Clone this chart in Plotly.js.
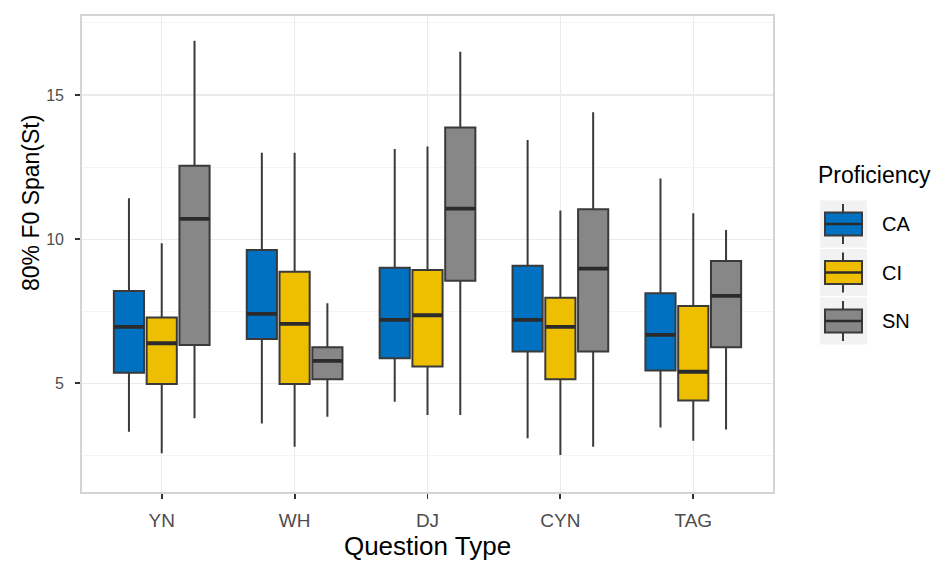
<!DOCTYPE html>
<html>
<head>
<meta charset="utf-8">
<script src="https://cdn.plot.ly/plotly-3.0.1.min.js"></script>
<style>html,body{margin:0;padding:0;background:#fff;}#chart{width:948px;height:566px;}</style>
</head>
<body>
<div id="chart"></div>
<script>
// Data
var categories = ["YN", "WH", "DJ", "CYN", "TAG"];
var groups = ["CA", "CI", "SN"];
var colors = ["#0070C0", "#EDBF00", "#878787"];

var CA_lower  = [3.32, 3.61, 4.36, 3.09, 3.47];
var CA_q1     = [5.37, 6.54, 5.87, 6.10, 5.44];
var CA_median = [6.96, 7.41, 7.20, 7.20, 6.68];
var CA_q3     = [8.20, 9.62, 9.01, 9.08, 8.12];
var CA_upper  = [11.42, 13.00, 13.13, 13.44, 12.10];

var CI_lower  = [2.57, 2.80, 3.90, 2.51, 3.01];
var CI_q1     = [4.98, 4.98, 5.58, 5.14, 4.40];
var CI_median = [6.39, 7.06, 7.36, 6.96, 5.40];
var CI_q3     = [7.28, 8.87, 8.93, 7.97, 7.68];
var CI_upper  = [9.86, 13.00, 13.21, 10.99, 10.90];

var SN_lower  = [3.79, 3.84, 3.90, 2.80, 3.40];
var SN_q1     = [6.33, 5.14, 8.56, 6.10, 6.25];
var SN_median = [10.70, 5.78, 11.06, 8.98, 8.03];
var SN_q3     = [12.55, 6.25, 13.87, 11.04, 9.24];
var SN_upper  = [16.88, 7.78, 16.50, 14.40, 10.32];

var stats = {
  CA: {lo: CA_lower, q1: CA_q1, med: CA_median, q3: CA_q3, hi: CA_upper},
  CI: {lo: CI_lower, q1: CI_q1, med: CI_median, q3: CI_q3, hi: CI_upper},
  SN: {lo: SN_lower, q1: SN_q1, med: SN_median, q3: SN_q3, hi: SN_upper}
};

var traces = [];
groups.forEach(function (g, i) {
  var s = stats[g];
  traces.push({
    type: "box", name: g, x: categories, offsetgroup: g,
    q1: s.q1, median: s.med, q3: s.q3, lowerfence: s.lo, upperfence: s.hi,
    fillcolor: colors[i], line: {color: "#3a3a3a", width: 2},
    whiskerwidth: 0, boxpoints: false, hoverinfo: "skip", showlegend: false
  });
  // thicker median line overlay
  traces.push({
    type: "box", name: g + " median", x: categories, offsetgroup: g,
    q1: s.med, median: s.med, q3: s.med, lowerfence: s.med, upperfence: s.med,
    fillcolor: "rgba(0,0,0,0)", line: {color: "#2b2b2b", width: 3.8},
    whiskerwidth: 0, boxpoints: false, hoverinfo: "skip", showlegend: false
  });
});

// Panel geometry in pixels (for the manual legend)
var L = 82, R = 175, T = 16, B = 74, W = 948, H = 566;
var pw = W - L - R, ph = H - T - B;
function xp(px) { return (px - L) / pw; }
function yp(py) { return (H - B - py) / ph; }

var shapes = [], annotations = [];
var keyCenters = [224, 272.5, 321];
groups.forEach(function (g, i) {
  var c = keyCenters[i];
  shapes.push({type: "rect", xref: "paper", yref: "paper", x0: xp(820), x1: xp(867), y0: yp(c - 23.5), y1: yp(c + 23.5), fillcolor: "#f2f2f2", line: {width: 0}, layer: "above"});
  shapes.push({type: "line", xref: "paper", yref: "paper", x0: xp(843), x1: xp(843), y0: yp(c - 20), y1: yp(c + 20), line: {color: "#3a3a3a", width: 2}, layer: "above"});
  shapes.push({type: "rect", xref: "paper", yref: "paper", x0: xp(825), x1: xp(862), y0: yp(c - 11.5), y1: yp(c + 11.5), fillcolor: colors[i], line: {color: "#3a3a3a", width: 2}, layer: "above"});
  shapes.push({type: "line", xref: "paper", yref: "paper", x0: xp(825), x1: xp(862), y0: yp(c), y1: yp(c), line: {color: "#2b2b2b", width: 2.6}, layer: "above"});
  annotations.push({xref: "paper", yref: "paper", x: xp(880), y: yp(c), text: g, showarrow: false, xanchor: "left", yanchor: "middle", font: {family: "Liberation Sans, Arial, sans-serif", size: 20, color: "#000000"}});
});
annotations.push({xref: "paper", yref: "paper", x: xp(816), y: yp(175), text: "Proficiency", showarrow: false, xanchor: "left", yanchor: "middle", font: {family: "Liberation Sans, Arial, sans-serif", size: 23, color: "#000000"}});
// y-axis title placed as a rotated annotation
annotations.push({xref: "paper", yref: "paper", x: xp(31), y: yp(203), text: "80% F0 Span(St)", showarrow: false, textangle: -90, xanchor: "center", yanchor: "middle", font: {family: "Liberation Sans, Arial, sans-serif", size: 23, color: "#000000"}});

var layout = {
  width: W, height: H,
  margin: {l: L, r: R, t: T, b: B, pad: 0},
  paper_bgcolor: "#ffffff", plot_bgcolor: "#ffffff",
  boxmode: "group", boxgap: 0.26, boxgroupgap: 0.08,
  showlegend: false,
  font: {family: "Liberation Sans, Arial, sans-serif"},
  xaxis: {
    type: "category", categoryorder: "array", categoryarray: categories,
    range: [-0.6, 4.6], fixedrange: true,
    showgrid: true, gridcolor: "#ebebeb", gridwidth: 1.2,
    showline: true, mirror: true, linecolor: "#d4d4d4", linewidth: 1.8,
    ticks: "outside", ticklen: 5, tickwidth: 1.8, tickcolor: "#333333",
    ticklabelstandoff: 5,
    tickfont: {size: 19, color: "#4d4d4d"},
    title: {text: "Question Type", font: {size: 26, color: "#000000"}, standoff: 7},
    zeroline: false
  },
  yaxis: {
    range: [1.23, 17.74], fixedrange: true,
    tickvals: [5, 10, 15], ticktext: ["5", "10", "15"],
    showgrid: true, gridcolor: "#ebebeb", gridwidth: 1.2,
    minor: {tickvals: [2.5, 7.5, 12.5, 17.5], showgrid: true, gridcolor: "#f3f3f3", gridwidth: 0.9, ticks: ""},
    showline: true, mirror: true, linecolor: "#d4d4d4", linewidth: 1.8,
    ticks: "outside", ticklen: 5, tickwidth: 1.8, tickcolor: "#333333",
    ticklabelstandoff: 8,
    tickfont: {size: 16, color: "#4d4d4d"},
    zeroline: false
  },
  shapes: shapes,
  annotations: annotations
};

Plotly.newPlot("chart", traces, layout, {displayModeBar: false, staticPlot: true});
</script>
</body>
</html>
